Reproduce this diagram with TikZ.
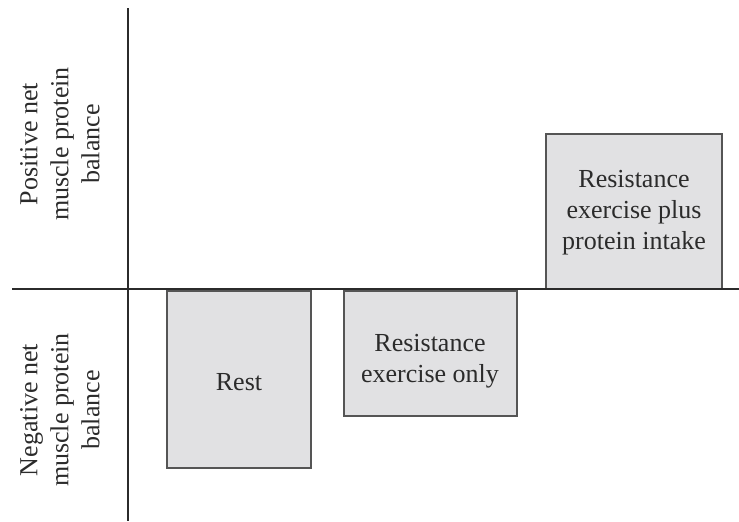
\documentclass[tikz,border=0pt]{standalone}
\usepackage{fontspec}
\setmainfont{Liberation Serif}
\usetikzlibrary{positioning}
\definecolor{barfill}{HTML}{E1E1E3}
\definecolor{barline}{HTML}{555555}
\definecolor{ink}{HTML}{2B2B2B}

\begin{document}
\begin{tikzpicture}[x=0.5pt, y=-0.5pt,
    every node/.style={text=ink, font=\fontsize{13}{15.5}\selectfont, align=center},
    bar/.style={draw=barline, fill=barfill, line width=0.7pt},
    axis/.style={draw=ink, line width=1.2pt}]
  \useasboundingbox (0,0) rectangle (739,521);

  % bars
  \draw[bar] (167,291) rectangle (311,468);
  \node (rest) at (239,382) {Rest};

  \draw[bar] (344,291) rectangle (517,416);
  \node (exonly) at (430,361) {Resistance\\exercise only};

  \draw[bar] (546,134) rectangle (722,289);
  \node (explus) at (634,213) {Resistance\\exercise plus\\protein intake};

  % axes
  \coordinate (ytop) at (128,8);
  \coordinate (ybot) at (128,521);
  \coordinate (xleft) at (12,289);
  \coordinate (xright) at (739,289);
  \draw[axis] (ytop) -- (ybot);
  \draw[axis] (xleft) -- (xright);

  % labels
  \node[rotate=90] (pos) at (60,144) {Positive net\\muscle protein\\balance};
  \node[rotate=90] (neg) at (60,410) {Negative net\\muscle protein\\balance};
\end{tikzpicture}
\end{document}
